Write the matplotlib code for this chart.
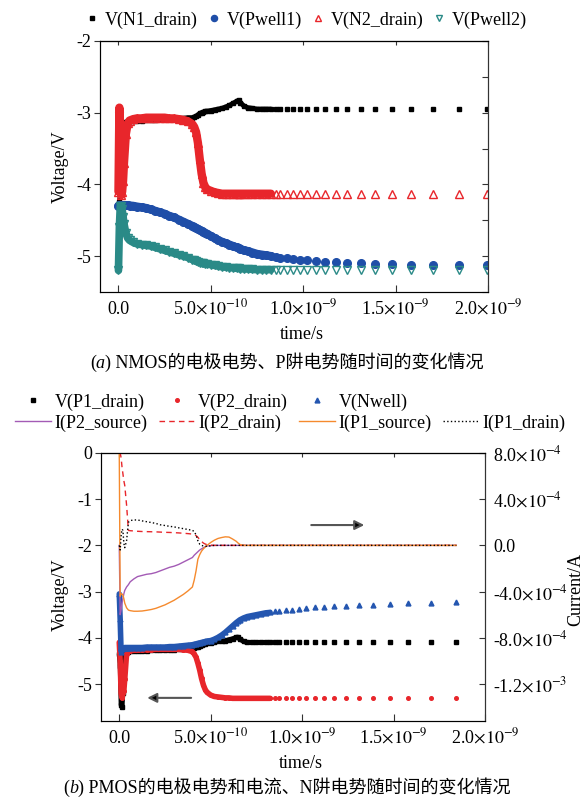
import numpy as np
import matplotlib as mpl
mpl.use('Agg')
import matplotlib.pyplot as plt
from matplotlib.lines import Line2D
from matplotlib.offsetbox import TextArea, HPacker, AnchoredOffsetbox

plt.rcParams['font.family'] = ['Liberation Serif', 'Noto Sans CJK SC']
plt.rcParams['mathtext.fontset'] = 'stix'
plt.rcParams['axes.unicode_minus'] = False
plt.rcParams['font.size'] = 13

# ---------------- data (time in units of 1e-10 s) ----------------
t_grid = [0.0, 0.05, 0.1, 0.15, 0.2, 0.25, 0.3, 0.4, 0.5, 0.6, 0.8, 1.0,
          1.25, 1.5, 1.75, 2.0, 2.25, 2.5, 2.75, 3.0, 3.25, 3.5, 3.75, 4.0,
          4.1, 4.2, 4.3, 4.4, 4.5, 4.6, 4.7, 4.8, 5.0, 5.2, 5.4, 5.6, 5.8,
          6.0, 6.2, 6.4, 6.5, 6.6, 6.8, 7.0, 7.25, 7.5, 7.75, 8.0, 8.25, 8.5,
          8.75, 9.1, 9.47, 9.84, 10.2, 10.71, 11.2, 11.75, 12.39, 13.11, 13.9,
          14.81, 15.81, 17.04, 18.43]
t_top = t_grid + [19.95]

# (a) NMOS
v_n1_drain = [-4.3, -4.25, -4.15, -3.6, -3.2, -3.15, -3.14, -3.13, -3.13, -3.12, -3.12, -3.11,
              -3.11, -3.1, -3.1, -3.1, -3.09, -3.09, -3.09, -3.08, -3.08, -3.08, -3.07, -3.07,
              -3.06, -3.05, -3.03, -3.01, -3.0, -2.99, -2.98, -2.98, -2.97, -2.96, -2.95, -2.94, -2.92,
              -2.9, -2.87, -2.84, -2.83, -2.86, -2.91, -2.93, -2.94, -2.95, -2.95, -2.95, -2.95, -2.95,
              -2.95, -2.95, -2.95, -2.95, -2.95, -2.95, -2.95, -2.95, -2.95, -2.95, -2.95,
              -2.95, -2.95, -2.95, -2.95, -2.95]
v_pwell1 = [-4.3, -4.29, -4.29, -4.29, -4.29, -4.29, -4.29, -4.29, -4.29, -4.295, -4.3, -4.31,
            -4.32, -4.33, -4.35, -4.37, -4.39, -4.41, -4.44, -4.46, -4.49, -4.52, -4.55, -4.58,
            -4.59, -4.61, -4.62, -4.64, -4.65, -4.66, -4.68, -4.69, -4.72, -4.75, -4.78, -4.8, -4.82,
            -4.84, -4.86, -4.88, -4.89, -4.9, -4.92, -4.93, -4.95, -4.97, -4.98, -4.99, -5.0, -5.01,
            -5.02, -5.03, -5.04, -5.05, -5.06, -5.07, -5.08, -5.085, -5.09, -5.1, -5.11,
            -5.115, -5.12, -5.125, -5.13, -5.13]
v_n2_drain = [-4.1, -2.93, -3.5, -4.15, -4.1, -3.95, -3.7, -3.3, -3.15, -3.11, -3.09, -3.08,
              -3.08, -3.07, -3.07, -3.07, -3.07, -3.07, -3.08, -3.08, -3.09, -3.1, -3.12, -3.16,
              -3.2, -3.27, -3.42, -3.65, -3.85, -3.98, -4.04, -4.07, -4.09, -4.11, -4.12, -4.13, -4.13,
              -4.13, -4.13, -4.13, -4.13, -4.13, -4.13, -4.13, -4.13, -4.13, -4.13, -4.13, -4.13, -4.13,
              -4.13, -4.13, -4.13, -4.13, -4.13, -4.13, -4.13, -4.13, -4.13, -4.13, -4.13,
              -4.13, -4.13, -4.13, -4.13, -4.13]
v_pwell2 = [-5.2, -4.6, -4.3, -4.3, -4.35, -4.45, -4.55, -4.68, -4.75, -4.78, -4.81, -4.83,
            -4.84, -4.85, -4.86, -4.88, -4.9, -4.92, -4.94, -4.96, -4.98, -5.0, -5.02, -5.05,
            -5.06, -5.07, -5.08, -5.09, -5.09, -5.1, -5.11, -5.11, -5.12, -5.13, -5.14, -5.15, -5.155,
            -5.16, -5.165, -5.17, -5.17, -5.175, -5.18, -5.18, -5.185, -5.19, -5.19, -5.19, -5.19, -5.19,
            -5.19, -5.2, -5.2, -5.2, -5.2, -5.2, -5.2, -5.2, -5.2, -5.2, -5.2,
            -5.2, -5.2, -5.2, -5.2, -5.2]

# (b) PMOS voltages (V)
v_p1_drain = [-4.35, -4.6, -5.45, -5.5, -5.2, -4.6, -4.32, -4.3, -4.3, -4.29, -4.29, -4.28,
              -4.28, -4.28, -4.27, -4.27, -4.27, -4.26, -4.26, -4.26, -4.25, -4.25, -4.24, -4.22,
              -4.21, -4.2, -4.19, -4.17, -4.15, -4.14, -4.13, -4.12, -4.11, -4.1, -4.08, -4.07, -4.06,
              -4.04, -4.02, -3.99, -3.99, -4.03, -4.08, -4.1, -4.1, -4.1, -4.1, -4.1, -4.1, -4.1,
              -4.1, -4.1, -4.1, -4.1, -4.1, -4.1, -4.1, -4.1, -4.1, -4.1, -4.1,
              -4.1, -4.1, -4.1, -4.1]
v_p2_drain = [-4.1, -4.5, -5.2, -5.3, -5.2, -5.15, -4.9, -4.35, -4.3, -4.28, -4.27, -4.27,
              -4.26, -4.26, -4.26, -4.25, -4.25, -4.25, -4.25, -4.25, -4.25, -4.26, -4.27, -4.3,
              -4.35, -4.42, -4.55, -4.7, -4.88, -5.02, -5.12, -5.18, -5.24, -5.27, -5.28, -5.29, -5.3,
              -5.3, -5.31, -5.31, -5.31, -5.31, -5.31, -5.31, -5.31, -5.31, -5.31, -5.31, -5.31, -5.31,
              -5.31, -5.31, -5.31, -5.31, -5.31, -5.31, -5.31, -5.31, -5.31, -5.31, -5.31,
              -5.31, -5.31, -5.31, -5.31]
v_nwell = [-3.05, -3.6, -4.3, -4.25, -4.22, -4.22, -4.21, -4.21, -4.21, -4.21, -4.21, -4.21,
           -4.21, -4.2, -4.2, -4.2, -4.2, -4.2, -4.19, -4.19, -4.18, -4.17, -4.16, -4.15,
           -4.14, -4.13, -4.12, -4.11, -4.1, -4.09, -4.08, -4.07, -4.06, -4.03, -3.99, -3.94, -3.88,
           -3.81, -3.74, -3.67, -3.64, -3.61, -3.57, -3.54, -3.52, -3.5, -3.48, -3.46, -3.45, -3.43,
           -3.42, -3.4, -3.39, -3.37, -3.36, -3.34, -3.33, -3.32, -3.31, -3.3, -3.29,
           -3.27, -3.25, -3.24, -3.22]

# (b) PMOS currents (A)
i_p2_source = [0.0, -6.0e-4, -5.6e-4, -5.0e-4, -4.6e-4, -4.2e-4, -3.9e-4, -3.6e-4, -3.4e-4, -3.15e-4, -2.9e-4, -2.7e-4,
               -2.6e-4, -2.5e-4, -2.45e-4, -2.35e-4, -2.2e-4, -2.05e-4, -1.9e-4, -1.8e-4, -1.65e-4, -1.45e-4, -1.25e-4, -1.05e-4,
               -8.5e-5, -7e-5, -5.5e-5, -4e-5, -3e-5, -2e-5, -1.2e-5, -6e-6, -2e-6, 0, 0, 0, 0,
               0, 0, 0, 0, 0, 0, 0, 0, 0, 0, 0, 0, 0,
               0, 0, 0, 0, 0, 0, 0, 0, 0, 0, 0,
               0, 0, 0, 0]
i_p2_drain = [8.0e-4, 8.0e-4, 7.6e-4, 6.8e-4, 6.2e-4, 5.6e-4, 5.2e-4, 3.5e-4, 1.3e-4, 1.27e-4, 1.25e-4, 1.22e-4,
              1.2e-4, 1.19e-4, 1.18e-4, 1.17e-4, 1.15e-4, 1.13e-4, 1.12e-4, 1.1e-4, 1.08e-4, 1.05e-4, 1.02e-4, 9.8e-5,
              9.3e-5, 8.5e-5, 7e-5, 5e-5, 3.5e-5, 2e-5, 1.2e-5, 6e-6, 2e-6, 0, 0, 0, 0,
              0, 0, 0, 0, 0, 0, 0, 0, 0, 0, 0, 0, 0,
              0, 0, 0, 0, 0, 0, 0, 0, 0, 0, 0,
              0, 0, 0, 0]
i_p1_source = [8.0e-4, -4.4e-4, -4.2e-4, -4.2e-4, -4.3e-4, -4.6e-4, -5.0e-4, -5.4e-4, -5.6e-4, -5.65e-4, -5.7e-4, -5.7e-4,
               -5.68e-4, -5.62e-4, -5.55e-4, -5.45e-4, -5.3e-4, -5.15e-4, -4.95e-4, -4.75e-4, -4.5e-4, -4.25e-4, -3.95e-4, -3.6e-4,
               -3.0e-4, -2.2e-4, -1.2e-4, -8e-5, -5e-5, -3e-5, -1.5e-5, 0, 2.5e-5, 4.5e-5, 6e-5, 6.8e-5, 7.4e-5,
               7.2e-5, 5.5e-5, 3.5e-5, 2e-5, 8e-6, 0, 0, 0, 0, 0, 0, 0, 0,
               0, 0, 0, 0, 0, 0, 0, 0, 0, 0, 0,
               0, 0, 0, 0]
i_p1_drain = [0.0, -4e-5, 8e-5, 1.4e-4, 1.3e-4, 2e-5, -2e-5, 4e-5, 2.0e-4, 2.15e-4, 2.2e-4, 2.2e-4,
              2.12e-4, 2.05e-4, 1.98e-4, 1.9e-4, 1.78e-4, 1.72e-4, 1.65e-4, 1.6e-4, 1.52e-4, 1.45e-4, 1.38e-4, 1.3e-4,
              1.2e-4, 9e-5, 4e-5, 1e-5, 0, -5e-6, -8e-6, -8e-6, -4e-6, 0, 0, 0, 0,
              0, 0, 0, 0, 0, 0, 0, 0, 0, 0, 0, 0, 0,
              0, 0, 0, 0, 0, 0, 0, 0, 0, 0, 0,
              0, 0, 0, 0]

x_ticks = [0, 5e-10, 1e-9, 1.5e-9, 2e-9]
x_ticklabels = ['0.0', r'5.0$\times10^{-10}$', r'1.0$\times10^{-9}$',
                r'1.5$\times10^{-9}$', r'2.0$\times10^{-9}$']
top_yticks = [-5, -4, -3, -2]
top_yticklabels = ['-5', '-4', '-3', '-2']
top_minor_y = [-5.5, -5, -4.5, -4, -3.5, -3, -2.5, -2]
bot_yticks = [-5, -4, -3, -2, -1, 0]
bot_yticklabels = ['-5', '-4', '-3', '-2', '-1', '0']
cur_ticks = [-1.2e-3, -8e-4, -4e-4, 0, 4e-4, 8e-4]
cur_ticklabels = [r'-1.2$\times10^{-3}$', r'-8.0$\times10^{-4}$', r'-4.0$\times10^{-4}$',
                  '0.0', r'4.0$\times10^{-4}$', r'8.0$\times10^{-4}$']

caption_a = ['(', 'a', ') NMOS的电极电势、P阱电势随时间的变化情况']
caption_b = ['(', 'b', ') PMOS的电极电势和电流、N阱电势随时间的变化情况']

# arrows (time s, V)
arrow_r = ((1.05e-9, -1.56), (1.34e-9, -1.56))
arrow_l = ((3.93e-10, -5.30), (1.53e-10, -5.30))

BLACK = '#000000'
BLUE = '#1F4EA8'
RED = '#E8262B'
TEAL = '#2A8A87'
NBLUE = '#2456B0'
PURPLE = '#A35BB5'
ORANGE = '#F58A2E'
SPINE = '#333333'
CUT = 8.5e-10


def band_series(ax, t, v, color, marker, ms, lw, hollow=False):
    t = np.asarray(t) * 1e-10
    v = np.asarray(v)
    m = t <= CUT
    ax.plot(t[m], v[m], color=color, lw=lw, solid_capstyle='round',
            solid_joinstyle='round', zorder=2)
    h, = ax.plot(t, v, ls='none', marker=marker, ms=ms, color=color,
                 mec=color, mfc='none' if hollow else color, mew=1, zorder=2)
    return h


def style_axes(ax, yticks, ylabels):
    for s in ax.spines.values():
        s.set_color(SPINE)
        s.set_linewidth(0.8)
    ax.set_xlim(-1e-10, 2e-9)
    ax.set_xticks(x_ticks)
    ax.set_xticklabels(x_ticklabels)
    ax.set_yticks(yticks)
    ax.set_yticklabels(ylabels)
    ax.tick_params(axis='y', direction='out', length=4, width=0.8, pad=2,
                   color=SPINE, right=False)
    ax.tick_params(axis='x', direction='in', length=5, width=0.8, pad=16,
                   color=SPINE, top=False)
    for lab in ax.get_xticklabels():
        lab.set_verticalalignment('baseline')
    sec = ax.secondary_xaxis('top')
    sec.set_xticks(x_ticks)
    sec.tick_params(direction='in', length=3, width=0.8, color=SPINE, labeltop=False)
    sec.spines['top'].set_color(SPINE)
    sec.spines['top'].set_linewidth(0.8)
    ax.set_xlabel('time/s')
    ax.xaxis.set_label_coords(0.52, -0.135)


fig = plt.figure(figsize=(5.85, 8.01), dpi=100)

# ---------------- (a) ----------------
ax1 = fig.add_axes([0.1709, 0.6355, 0.6633, 0.3134])
h1 = band_series(ax1, t_top, v_n1_drain, BLACK, 's', 3.5, 3.5)
h2 = band_series(ax1, t_top, v_pwell1, BLUE, 'o', 5.5, 6)
h3 = band_series(ax1, t_top, v_n2_drain, RED, '^', 6, 6, hollow=True)
h4 = band_series(ax1, t_top, v_pwell2, TEAL, 'v', 6, 5.5, hollow=True)
ax1.set_ylim(-5.5, -2)
style_axes(ax1, top_yticks, top_yticklabels)
ax1.set_ylabel('Voltage/V')
ax1.yaxis.set_label_coords(-0.08, 0.5)
ax1r = ax1.twinx()
ax1r.set_ylim(-5.5, -2)
ax1r.set_yticks(top_minor_y)
ax1r.tick_params(axis='y', direction='in', length=4, width=0.8, color=SPINE, labelright=False)
ax1r.spines['right'].set_color(SPINE)

fig.legend([h1, h2, h3, h4], ['V(N1_drain)', 'V(Pwell1)', 'V(N2_drain)', 'V(Pwell2)'],
           loc='center', bbox_to_anchor=(0.523, 0.975), ncol=4, frameon=False,
           handlelength=0.8, handletextpad=0.3, columnspacing=0.5, numpoints=1,
           borderpad=0, borderaxespad=0, markerscale=0.8)

# ---------------- (b) ----------------
ax2 = fig.add_axes([0.1726, 0.0999, 0.6564, 0.3346])
g1 = band_series(ax2, t_grid, v_p1_drain, BLACK, 's', 2.5, 3.5)
g2 = band_series(ax2, t_grid, v_p2_drain, RED, 'o', 2.6, 4)
g3 = band_series(ax2, t_grid, v_nwell, NBLUE, '^', 3.5, 4)
ax2.set_ylim(-5.8, 0)
style_axes(ax2, bot_yticks, bot_yticklabels)
ax2.xaxis.set_label_coords(0.52, -0.127)
ax2.set_ylabel('Voltage/V')
ax2.yaxis.set_label_coords(-0.083, 0.47)

ax3 = ax2.twinx()
tb = np.asarray(t_grid) * 1e-10
c1, = ax3.plot(tb, i_p2_source, color=PURPLE, lw=1)
c2, = ax3.plot(tb, i_p2_drain, color=RED, lw=1, dashes=(4, 3))
c3, = ax3.plot(tb, i_p1_source, color=ORANGE, lw=1)
c4, = ax3.plot(tb, i_p1_drain, color=BLACK, lw=1, ls=':')
ax3.set_ylim(-1.52e-3, 8e-4)
ax3.set_yticks(cur_ticks)
ax3.set_yticklabels(cur_ticklabels)
ax3.tick_params(axis='y', direction='in', length=4, width=0.8, pad=6, color=SPINE)
ax3.spines['right'].set_color(SPINE)
ax3.set_ylabel('Current/A', rotation=90)
ax3.yaxis.set_label_coords(1.214, 0.49)

ax2.annotate('', xy=arrow_r[1], xytext=arrow_r[0],
             arrowprops=dict(arrowstyle='-|>', lw=1.5, ec='#555555', fc='black',
                             mutation_scale=14, shrinkA=0, shrinkB=0))
ax2.annotate('', xy=arrow_l[1], xytext=arrow_l[0],
             arrowprops=dict(arrowstyle='-|>', lw=1.5, ec='#555555', fc='black',
                             mutation_scale=14, shrinkA=0, shrinkB=0))

blank = Line2D([], [], alpha=0)
fig.legend([g1, c1, g2, c2, g3, c3, blank, c4],
           ['V(P1_drain)', 'I(P2_source)', 'V(P2_drain)', 'I(P2_drain)',
            'V(Nwell)', 'I(P1_source)', '', 'I(P1_drain)'],
           loc='center', bbox_to_anchor=(0.496, 0.485), ncol=4, frameon=False,
           handlelength=2.0, handletextpad=0.2, columnspacing=0.6, labelspacing=0.2,
           numpoints=1, borderpad=0, borderaxespad=0)


def caption(parts, y):
    kids = []
    for i, txt in enumerate(parts):
        if i == 1:
            props = dict(family=['Liberation Serif'], style='italic', size=13)
        else:
            props = dict(family=['Liberation Serif', 'Noto Sans CJK SC'], size=13)
        kids.append(TextArea(txt, textprops=props))
    box = HPacker(children=kids, align='baseline', pad=0, sep=0)
    fig.add_artist(AnchoredOffsetbox(loc='center', child=box, pad=0, borderpad=0,
                                     frameon=False, bbox_to_anchor=(0.49, y),
                                     bbox_transform=fig.transFigure))


caption(caption_a, 0.548)
caption(caption_b, 0.0175)

fig.savefig('out.png', dpi=100)
